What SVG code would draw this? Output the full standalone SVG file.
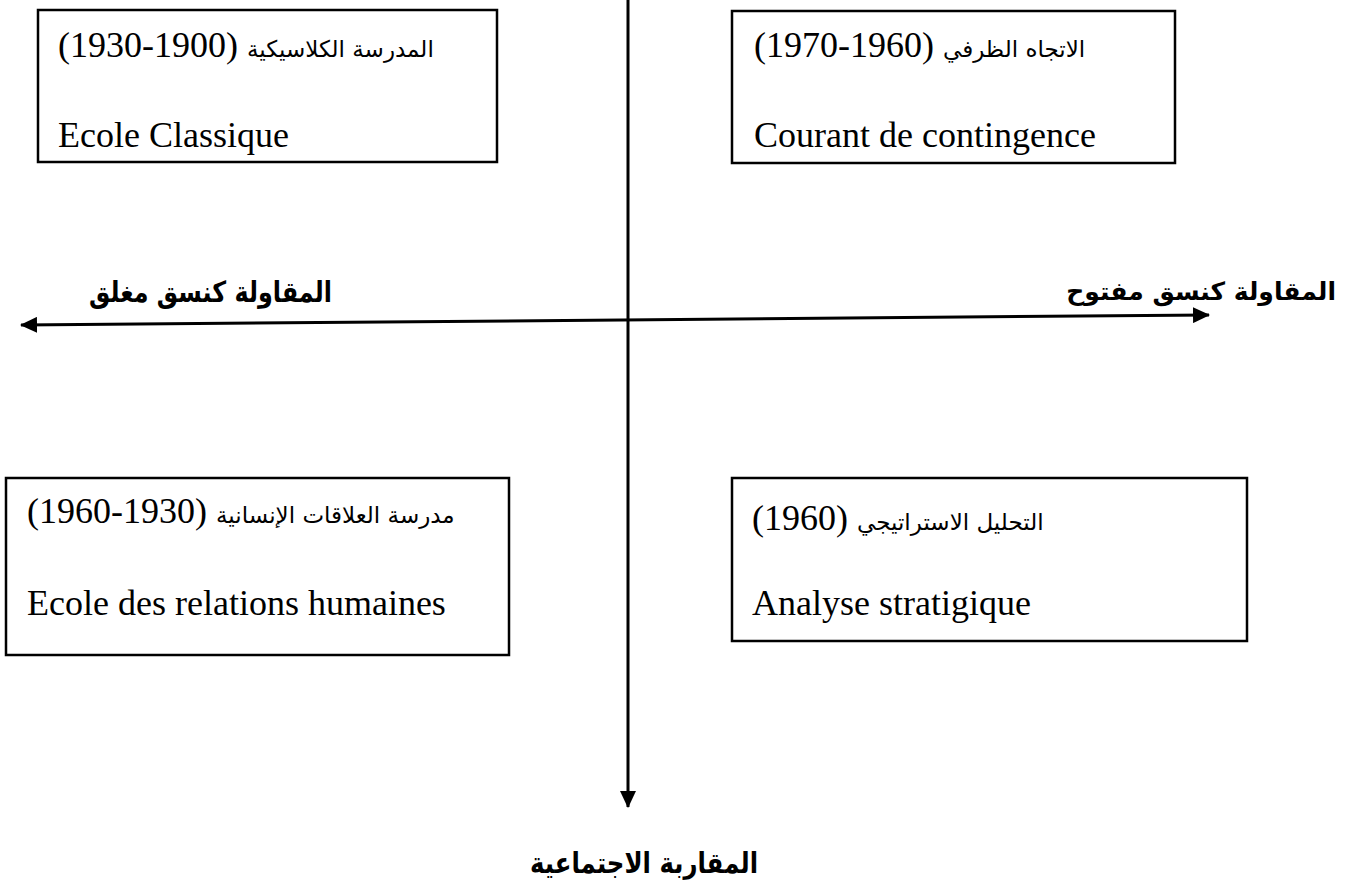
<svg xmlns="http://www.w3.org/2000/svg" width="1354" height="888" viewBox="0 0 1354 888">
<style>
.box{fill:#fff;stroke:#000;stroke-width:2.5}
.t{font-family:"Liberation Serif","DejaVu Sans",serif;font-size:36px;fill:#000}
.ar{font-family:"DejaVu Sans",sans-serif;font-size:23px}
.lbl{font-family:"DejaVu Sans",sans-serif;font-size:29px;font-weight:bold;fill:#000}
.ax{stroke:#000;stroke-width:3;fill:none}
</style>
<defs>
<marker id="ah" markerUnits="userSpaceOnUse" markerWidth="17" markerHeight="16" refX="16" refY="8" orient="auto-start-reverse"><path d="M0,0 L17,8 L0,16 z" fill="#000"/></marker>
</defs>
<rect width="1354" height="888" fill="#fff"/>
<g id="connectors">
<line class="ax" x1="628" y1="0" x2="628" y2="807" marker-end="url(#ah)"/>
<line class="ax" x1="21" y1="325" x2="1209" y2="315" marker-start="url(#ah)" marker-end="url(#ah)"/>
</g>
<g id="node-classique">
<rect class="box" x="38" y="10" width="459" height="152"/>
<text class="t" x="58" y="57">(1930-1900) <tspan class="ar">المدرسة الكلاسيكية</tspan></text>
<text class="t" x="58" y="147">Ecole Classique</text>
</g>
<g id="node-contingence">
<rect class="box" x="732" y="11" width="443" height="152"/>
<text class="t" x="754" y="57">(1970-1960) <tspan class="ar">الاتجاه الظرفي</tspan></text>
<text class="t" x="754" y="147">Courant de contingence</text>
</g>
<g id="node-relations">
<rect class="box" x="6" y="478" width="503" height="177"/>
<text class="t" x="27" y="523">(1960-1930) <tspan class="ar">مدرسة العلاقات الإنسانية</tspan></text>
<text class="t" x="27" y="615">Ecole des relations humaines</text>
</g>
<g id="node-strategique">
<rect class="box" x="732" y="478" width="515" height="163"/>
<text class="t" x="752" y="530">(1960) <tspan class="ar">التحليل الاستراتيجي</tspan></text>
<text class="t" x="752" y="615">Analyse stratigique</text>
</g>
<g id="node-ferme">
<text class="lbl" x="89" y="302" textLength="243" lengthAdjust="spacingAndGlyphs">المقاولة كنسق مغلق</text>
</g>
<g id="node-ouvert">
<text class="lbl" x="1336" y="300" text-anchor="end" style="font-size:25px">المقاولة كنسق مفتوح</text>
</g>
<g id="node-social">
<text class="lbl" x="644" y="873" text-anchor="middle" textLength="228" lengthAdjust="spacingAndGlyphs">المقاربة الاجتماعية</text>
</g>
</svg>
